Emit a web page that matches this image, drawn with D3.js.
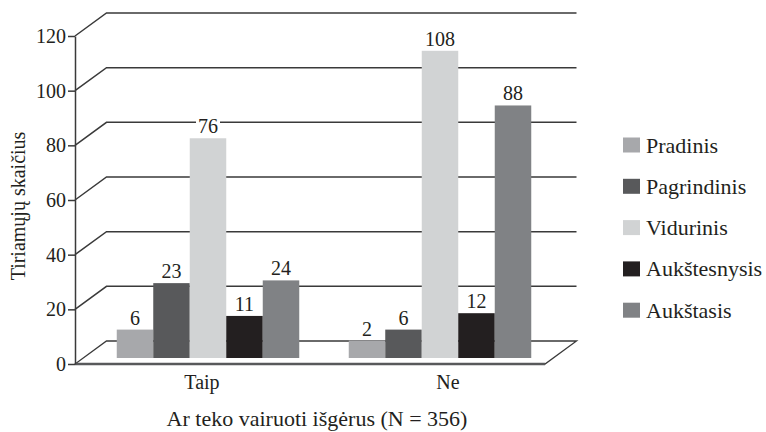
<!DOCTYPE html>
<html><head><meta charset="utf-8">
<script src="https://cdn.jsdelivr.net/npm/d3@7"></script>
<style>body{margin:0;background:#fff}svg{display:block}</style>
</head><body><svg id="c" width="766" height="432"></svg>
<script>
const groups = ["Taip", "Ne"];
const series = ["Pradinis", "Pagrindinis", "Vidurinis", "Aukštesnysis", "Aukštasis"];
const taipValues = [6, 23, 76, 11, 24];
const neValues = [2, 6, 108, 12, 88];
const yTicks = [0, 20, 40, 60, 80, 100, 120];
const colors = ["#a7a8ab", "#58595b", "#d1d3d4", "#231f20", "#808285"];
const yTitle = "Tiriamųjų skaičius";
const xTitle = "Ar teko vairuoti išgėrus (N = 356)";

const FONT = "Liberation Serif";
const values = [taipValues, neValues];
const svg = d3.select("#c");
const fs = 20;
const depth = {dx: 31.5, dy: -23};
const yFront = d3.scaleLinear().domain([0, 120]).range([364, 36]);
const yBar = d3.scaleLinear().domain([0, 120]).range([346, 18]);
const floorY = 358;
const xLeft = 75, xRight = 545;
const xLabel = d3.scaleBand().domain(groups).range([79, 571]);
const xGroup = d3.scaleBand().domain(groups).range([92, 556]);
const xInner = d3.scaleBand().domain(series).range([0, 182.5]);
const gridColor = "#3a3a3a";
const txt = sel => sel.attr("font-family", FONT).attr("fill", "#231f20");

// floor
svg.append("path")
  .attr("d", `M${xLeft},${yFront(0)} L${xRight},${yFront(0)} L${xRight+depth.dx},${yFront(0)+depth.dy} L${xLeft+depth.dx},${yFront(0)+depth.dy} Z`)
  .attr("fill", "#fff").attr("stroke", gridColor).attr("stroke-width", 1.3);
svg.append("line").attr("x1", xLeft).attr("x2", xRight).attr("y1", yFront(0)).attr("y2", yFront(0))
  .attr("stroke", "#58595b").attr("stroke-width", 2.5);

// gridlines (side + back wall)
svg.append("g").selectAll("path").data(yTicks.filter(d => d > 0)).join("path")
  .attr("d", d => `M${xLeft},${yFront(d)} L${xLeft+depth.dx},${yFront(d)+depth.dy} L${xRight+depth.dx},${yFront(d)+depth.dy}`)
  .attr("fill", "none").attr("stroke", gridColor).attr("stroke-width", 1.5);

// bars
const gBars = svg.append("g");
groups.forEach((g, gi) => {
  const gg = gBars.append("g").attr("transform", `translate(${xGroup(g) + (xGroup.bandwidth() - 182.5) / 2},0)`);
  const data = series.map((s, i) => ({s, v: values[gi][i], c: colors[i]}));
  gg.selectAll("rect").data(data).join("rect")
    .attr("x", d => xInner(d.s)).attr("width", xInner.bandwidth())
    .attr("y", d => yBar(d.v)).attr("height", d => floorY - yBar(d.v))
    .attr("fill", d => d.c);
  const lab = gg.selectAll("g.lab").data(data).join("g").attr("class", "lab");
  lab.append("rect")
    .attr("x", d => xInner(d.s) + xInner.bandwidth() / 2 - (String(d.v).length * fs * 0.5) / 2 - 2)
    .attr("width", d => String(d.v).length * fs * 0.5 + 4)
    .attr("y", d => yBar(d.v) - 5 - fs * 0.72).attr("height", fs * 0.72)
    .attr("fill", "#fff");
  lab.append("text")
    .attr("x", d => xInner(d.s) + xInner.bandwidth() / 2)
    .attr("y", d => yBar(d.v) - 5)
    .attr("text-anchor", "middle").attr("font-size", fs)
    .text(d => d.v).call(txt);
});

// y axis
const yAxis = svg.append("g").attr("transform", `translate(${xLeft},0)`)
  .call(d3.axisLeft(yFront).tickValues(yTicks).tickSize(7).tickSizeOuter(0));
yAxis.attr("font-family", FONT);
yAxis.selectAll("path,line").attr("stroke", gridColor).attr("stroke-width", 1.5);
yAxis.selectAll("text").attr("font-size", fs).attr("x", -9).call(txt);

// x labels
svg.append("g").selectAll("text").data(groups).join("text")
  .attr("x", d => xLabel(d) + xLabel.bandwidth() / 2).attr("y", 389)
  .attr("text-anchor", "middle").attr("font-size", fs).text(d => d).call(txt);

// titles
svg.append("text").attr("x", 317).attr("y", 426).attr("text-anchor", "middle").attr("font-size", 22).text(xTitle).call(txt);
svg.append("text").attr("transform", "translate(25,206) rotate(-90)").attr("text-anchor", "middle").attr("font-size", fs).text(yTitle).call(txt);

// legend
const leg = svg.append("g").selectAll("g").data(series).join("g")
  .attr("transform", (d, i) => `translate(623,${145 + i * 41.3})`);
leg.append("rect").attr("x", 0).attr("y", -7.5).attr("width", 17).attr("height", 15).attr("fill", (d, i) => colors[i]);
leg.append("text").attr("x", 23).attr("y", 7.5).attr("font-size", 22).text(d => d).call(txt);
</script></body></html>
